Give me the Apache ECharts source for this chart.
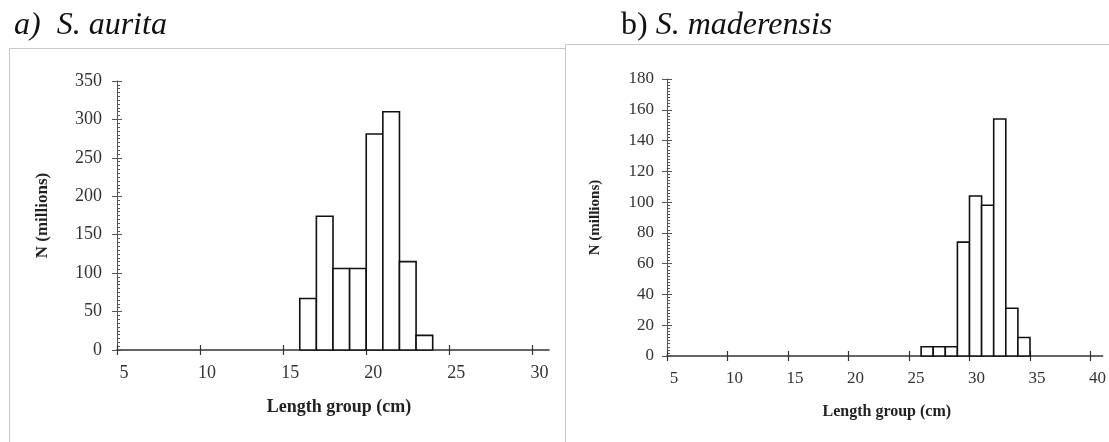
<!DOCTYPE html>
<html>
<head>
<meta charset="utf-8">
<script src="https://cdn.jsdelivr.net/npm/echarts@6/dist/echarts.min.js"></script>
<style>
  html, body { margin: 0; padding: 0; background: #fff; }
  #chart { width: 1109px; height: 442px; }
</style>
</head>
<body>
<div id="chart"></div>
<script>
// Length-frequency data (lower bound of each 1 cm length group, N in millions)
const auritaLengths = [16, 17, 18, 19, 20, 21, 22, 23];
const auritaCounts  = [67, 174, 106, 106, 281, 310, 115, 19];

const maderensisLengths = [26, 27, 28, 29, 30, 31, 32, 33, 34];
const maderensisCounts  = [6, 6, 6, 74, 104, 98, 154, 31, 12];

const xTickValues = [5, 10, 15, 20, 25, 30, 35, 40];
const auritaXTicks = xTickValues.filter(v => v <= 30);
const maderensisXTicks = xTickValues.filter(v => v <= 40);

const panelTitles = ['a)  S. aurita', 'S. maderensis'];
const xAxisTitle = 'Length group (cm)';
const yAxisTitle = 'N (millions)';

const SERIF = '"Liberation Serif", "DejaVu Serif", serif';
const AXIS_GREY = '#555';
const LABEL_GREY = '#333';

function pairs(xs, ys) { return xs.map((x, i) => [x, ys[i]]); }

// Each bar spans one length group: [start, start + 1]
function histItem(params, api) {
  const start = api.value(0);
  const n = api.value(1);
  const p0 = api.coord([start, 0]);
  const p1 = api.coord([start + 1, n]);
  return {
    type: 'rect',
    shape: { x: p0[0], y: p1[1], width: p1[0] - p0[0], height: p0[1] - p1[1] },
    style: { fill: '#fff', stroke: '#111', lineWidth: 1.6 }
  };
}

// Main x axis (line, outer tick halves, labels) plus an overlaid copy for the inner tick halves
function xAxes(gridIndex, max, ticks, labelSize, nameSize, nameGap, nameShift) {
  return [
    {
      gridIndex, type: 'value', position: 'bottom', min: 5, max,
      axisLine: { show: true, lineStyle: { color: '#333', width: 1.5 } },
      axisTick: { show: true, inside: false, length: 5, customValues: ticks, lineStyle: { color: '#333', width: 1.2 } },
      axisLabel: { customValues: ticks, margin: 14, color: LABEL_GREY, fontFamily: SERIF, fontSize: labelSize, padding: [0, 0, 0, 14] },
      splitLine: { show: false },
      name: xAxisTitle, nameLocation: 'middle', nameGap,
      nameTextStyle: { fontFamily: SERIF, fontWeight: 'bold', fontSize: nameSize, color: '#222', padding: [0, 0, 0, nameShift] }
    },
    {
      gridIndex, type: 'value', position: 'bottom', min: 5, max,
      axisLine: { show: false },
      axisTick: { show: true, inside: true, length: 5, customValues: ticks, lineStyle: { color: '#333', width: 1.2 } },
      axisLabel: { show: false },
      splitLine: { show: false }
    }
  ];
}

// Main y axis plus an overlaid copy carrying the inner tick halves and the minor ticks
function yAxes(gridIndex, max, interval, labelSize, labelMargin, nameSize, nameGap) {
  return [
    {
      gridIndex, type: 'value', position: 'left', min: 0, max, interval,
      axisLine: { show: true, lineStyle: { color: AXIS_GREY, width: 1 } },
      axisTick: { show: true, inside: false, length: 5, lineStyle: { color: AXIS_GREY } },
      axisLabel: { margin: labelMargin, color: LABEL_GREY, fontFamily: SERIF, fontSize: labelSize },
      splitLine: { show: false },
      name: yAxisTitle, nameLocation: 'middle', nameGap, nameRotate: 90,
      nameTextStyle: { fontFamily: SERIF, fontWeight: 'bold', fontSize: nameSize, color: '#222' }
    },
    {
      gridIndex, type: 'value', position: 'left', min: 0, max, interval,
      axisLine: { show: false },
      axisTick: { show: true, inside: true, length: 5, lineStyle: { color: AXIS_GREY } },
      minorTick: { show: true, splitNumber: 10, length: 3, lineStyle: { color: AXIS_GREY } },
      axisLabel: { show: false },
      splitLine: { show: false }
    }
  ];
}

const chart = echarts.init(document.getElementById('chart'), null, { renderer: 'canvas' });

chart.setOption({
  animation: false,
  backgroundColor: '#fff',
  grid: [
    { left: 117, top: 81, width: 432, height: 269 },
    { left: 667, top: 79, width: 440, height: 277 }
  ],
  xAxis: [
    ...xAxes(0, 31, auritaXTicks, 18, 18, 48, 12),
    ...xAxes(1, 41, maderensisXTicks, 17, 16, 48, 4)
  ],
  yAxis: [
    ...yAxes(0, 350, 50, 18, 15, 17, 66),
    ...yAxes(1, 180, 20, 17, 13, 15, 64)
  ],
  series: [
    { type: 'custom', xAxisIndex: 0, yAxisIndex: 0, renderItem: histItem,
      encode: { x: 0, y: 1 }, data: pairs(auritaLengths, auritaCounts) },
    { type: 'custom', xAxisIndex: 2, yAxisIndex: 2, renderItem: histItem,
      encode: { x: 0, y: 1 }, data: pairs(maderensisLengths, maderensisCounts) }
  ],
  graphic: [
    // panel frames
    { type: 'polyline', shape: { points: [[9.5, 442], [9.5, 48.5], [565, 48.5]] },
      style: { stroke: '#c8c8c8', lineWidth: 1, fill: null } },
    { type: 'polyline', shape: { points: [[565.5, 442], [565.5, 44.5], [1109, 44.5]] },
      style: { stroke: '#c8c8c8', lineWidth: 1, fill: null } },
    // panel titles
    { type: 'text', left: 14, top: 10,
      style: { text: panelTitles[0], font: 'italic 32px ' + SERIF, fill: '#111' } },
    { type: 'text', left: 621, top: 10,
      style: {
        text: '{n|b) }{i|' + panelTitles[1] + '}',
        rich: {
          n: { font: '32px ' + SERIF, fill: '#111' },
          i: { font: 'italic 32px ' + SERIF, fill: '#111' }
        }
      } }
  ]
});
</script>
</body>
</html>
